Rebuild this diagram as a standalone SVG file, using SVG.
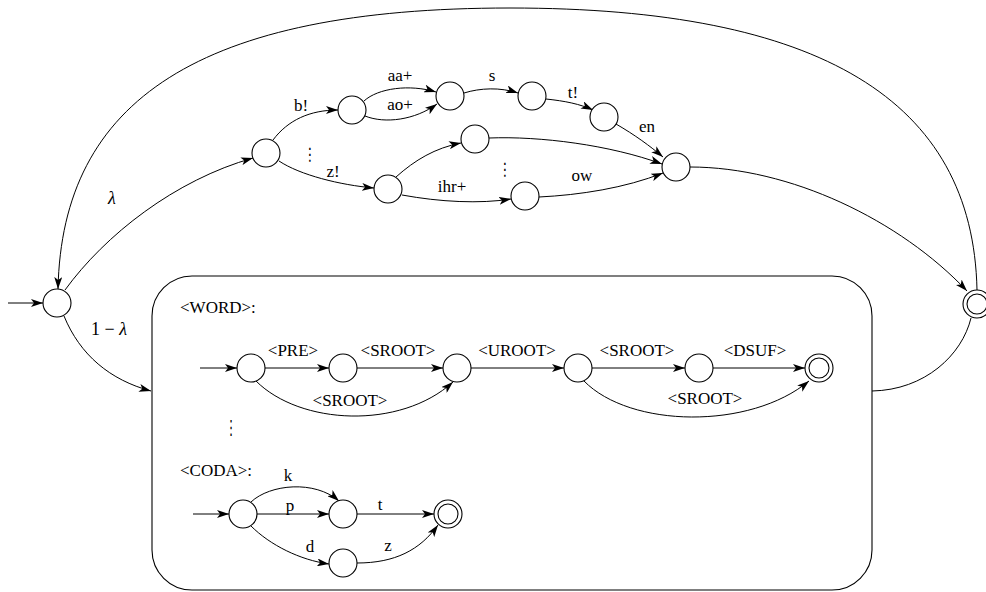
<svg xmlns="http://www.w3.org/2000/svg" width="986" height="592" viewBox="0 0 986 592">
  <defs>
    <marker id="ah" viewBox="0 0 12 8" refX="12" refY="4" markerWidth="12" markerHeight="8" markerUnits="userSpaceOnUse" orient="auto">
      <path d="M0,0 L12,4 L0,8 L3,4 z" fill="#000"/>
    </marker>
  </defs>
  <style>
    .st { fill: #fff; stroke: #000; stroke-width: 1.1; }
    .in { fill: none; stroke: #000; stroke-width: 1.1; }
    .e { fill: none; stroke: #000; stroke-width: 1; }
    .a { fill: none; stroke: #000; stroke-width: 1; marker-end: url(#ah); }
    .box { fill: none; stroke: #000; stroke-width: 1.1; }
    text { font-family: "Liberation Serif", "Times New Roman", serif; font-size: 17px; fill: #000; }
    .m { text-anchor: middle; }
    .gr { font-size: 18px; }
    .it { font-style: italic; }
    .vd { font-family: "DejaVu Sans", sans-serif; text-anchor: middle; }
  </style>

  <!-- module box holding the sub-automata -->
  <rect id="module-box" class="box" x="152" y="276" width="720" height="314" rx="40" ry="40"/>

  <g id="connectors">
    <!-- outer loop back to the start state -->
    <path class="a" d="M977,290 C973,100 820,8 510,8 C200,8 62,100 58,289"/>
    <path class="a" d="M8,303 L43,303"/>
    <path class="a" d="M65,290 C105,235 175,180 253,158"/>
    <path class="a" d="M64,316 C80,355 110,380 151,391"/>
    <!-- lexicon branch -->
    <path class="a" d="M273,140 C288,120 310,110 338,110"/>
    <path class="a" d="M364,101 C378,88 410,84 436,92"/>
    <path class="a" d="M365,116 C385,124 415,120 437,104"/>
    <path class="a" d="M464,93 C480,88 500,87 518,93"/>
    <path class="a" d="M546,99 C565,101 580,104 593,110"/>
    <path class="a" d="M616,124 C635,135 650,146 663,157"/>
    <path class="a" d="M279,161 C300,175 340,185 374,188"/>
    <path class="a" d="M396,177 C415,160 435,148 461,143"/>
    <path class="a" d="M489,138 C540,136 610,145 662,164"/>
    <path class="a" d="M402,195 C440,202 480,204 511,199"/>
    <path class="a" d="M539,197 C580,195 625,188 663,173"/>
    <path class="a" d="M690,167 C790,167 900,220 967,291"/>
    <!-- box exit to final state -->
    <path class="e" d="M872,391 C925,390 962,355 971,318"/>
    <!-- WORD row -->
    <path class="a" d="M200,368 L237,368"/>
    <path class="a" d="M265,368 L329,368"/>
    <path class="a" d="M357,368 L443,368"/>
    <path class="a" d="M471,368 L564,368"/>
    <path class="a" d="M592,368 L685,368"/>
    <path class="a" d="M713,368 L805,368"/>
    <path class="a" d="M256,381 C300,425 400,430 453,382"/>
    <path class="a" d="M584,381 C630,428 750,430 809,381"/>
    <!-- CODA row -->
    <path class="a" d="M193,514 L229,514"/>
    <path class="a" d="M257,514 L329,514"/>
    <path class="a" d="M251,502 C270,484 315,480 339,501"/>
    <path class="a" d="M357,514 L434,514"/>
    <path class="a" d="M251,526 C270,545 300,560 329,564"/>
    <path class="a" d="M357,563 C395,563 420,550 438,525"/>
  </g>

  <!-- states -->
  <g id="s0"><circle class="st" cx="57" cy="303" r="14"/></g>
  <g id="n-a"><circle class="st" cx="266" cy="153" r="14"/></g>
  <g id="n-b"><circle class="st" cx="352" cy="110" r="14"/></g>
  <g id="n-c"><circle class="st" cx="450" cy="96" r="14"/></g>
  <g id="n-d"><circle class="st" cx="532" cy="96" r="14"/></g>
  <g id="n-e"><circle class="st" cx="604" cy="117" r="14"/></g>
  <g id="n-f"><circle class="st" cx="676" cy="167" r="14"/></g>
  <g id="n-g"><circle class="st" cx="388" cy="189" r="14"/></g>
  <g id="n-h"><circle class="st" cx="475" cy="139" r="14"/></g>
  <g id="n-i"><circle class="st" cx="525" cy="196" r="14"/></g>
  <g id="final"><circle class="st" cx="977" cy="304" r="14"/><circle class="in" cx="977" cy="304" r="10"/></g>

  <g id="w1"><circle class="st" cx="251" cy="368" r="14"/></g>
  <g id="w2"><circle class="st" cx="343" cy="368" r="14"/></g>
  <g id="w3"><circle class="st" cx="457" cy="368" r="14"/></g>
  <g id="w4"><circle class="st" cx="578" cy="368" r="14"/></g>
  <g id="w5"><circle class="st" cx="699" cy="368" r="14"/></g>
  <g id="wf"><circle class="st" cx="819" cy="368" r="14"/><circle class="in" cx="819" cy="368" r="10"/></g>

  <g id="c1"><circle class="st" cx="243" cy="514" r="14"/></g>
  <g id="c2"><circle class="st" cx="343" cy="514" r="14"/></g>
  <g id="c3"><circle class="st" cx="343" cy="563" r="14"/></g>
  <g id="cf"><circle class="st" cx="448" cy="514" r="14"/><circle class="in" cx="448" cy="514" r="10"/></g>

  <!-- labels -->
  <g id="labels">
    <text class="m gr it" x="112" y="204">λ</text>
    <text class="m gr" x="109" y="335">1 − <tspan class="it">λ</tspan></text>
    <text class="m" x="301" y="111">b!</text>
    <text class="m" x="400" y="81">aa+</text>
    <text class="m" x="400" y="110">ao+</text>
    <text class="m" x="492" y="81">s</text>
    <text class="m" x="573" y="98">t!</text>
    <text class="m" x="647" y="132">en</text>
    <text class="m" x="333" y="177">z!</text>
    <text class="m" x="452" y="192">ihr+</text>
    <text class="m" x="582" y="181">ow</text>
    <text class="vd" transform="translate(310,160) scale(0.8,1)" x="0" y="0" font-size="22">⋮</text>
    <text class="vd" transform="translate(505,175) scale(0.8,1)" x="0" y="0" font-size="22">⋮</text>

    <text x="180" y="313">&lt;WORD&gt;:</text>
    <text class="m" x="293" y="356">&lt;PRE&gt;</text>
    <text class="m" x="398" y="356">&lt;SROOT&gt;</text>
    <text class="m" x="517" y="356">&lt;UROOT&gt;</text>
    <text class="m" x="637" y="356">&lt;SROOT&gt;</text>
    <text class="m" x="755" y="356">&lt;DSUF&gt;</text>
    <text class="m" x="350" y="406">&lt;SROOT&gt;</text>
    <text class="m" x="705" y="404">&lt;SROOT&gt;</text>
    <text class="vd" transform="translate(231,434) scale(0.7,1.15)" x="0" y="0" font-size="28">⋮</text>

    <text x="180" y="476">&lt;CODA&gt;:</text>
    <text class="m" x="288" y="481">k</text>
    <text class="m" x="290" y="511">p</text>
    <text class="m" x="380" y="510">t</text>
    <text class="m" x="310" y="552">d</text>
    <text class="m" x="388" y="551">z</text>
  </g>
</svg>
